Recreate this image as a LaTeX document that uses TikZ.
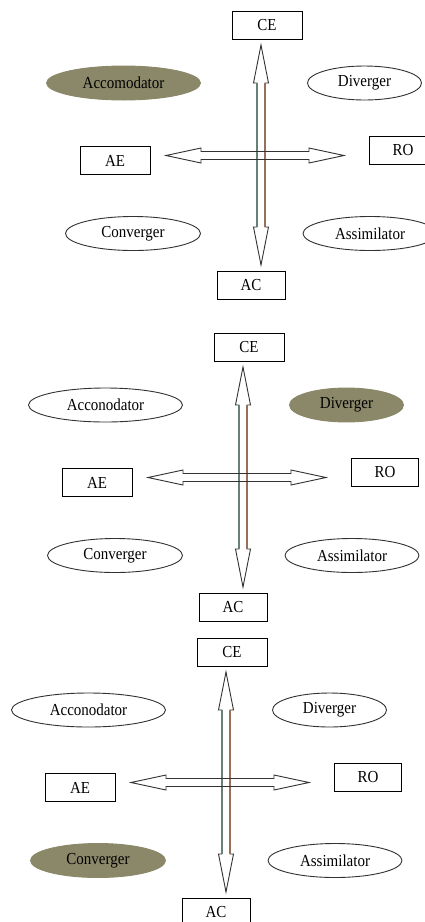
\documentclass[tikz,border=0pt]{standalone}
\usepackage{fontspec}
\usepackage{graphicx}
\setmainfont{Liberation Serif}
\usetikzlibrary{shapes.geometric}
\definecolor{olivefill}{RGB}{139,136,106}
\definecolor{shaftA}{RGB}{105,128,118}
\definecolor{shaftB}{RGB}{150,112,88}
\definecolor{edgegray}{RGB}{50,50,50}
\newcommand\tallt[1]{\scalebox{1}[1.12]{#1}}
\tikzset{
  lbl/.style={font=\fontsize{15}{18}\selectfont},
  box/.style={lbl,draw=black,line width=1pt,minimum width=70pt,minimum height=28pt,inner sep=0pt},
  oval/.style={lbl,ellipse,draw=edgegray,line width=0.9pt,inner sep=0pt},
  plain/.style={fill=white},
  hot/.style={fill=olivefill,draw=olivefill},
  blockarrow/.style={draw=edgegray,line width=0.9pt,line join=miter},
}
% #1 prefix, #2 xshift, #3 yshift, #4 acc style, #5 acc label, #6 div style, #7 conv style
\newcommand\klpanel[7]{%
\begin{scope}[shift={(#2,#3)}]
  \node[box] (#1ce) at (249,347) {\tallt{CE}};
  \node[box] (#1ae) at (97,482.5) {\tallt{AE}};
  \node[box,minimum width=67pt] (#1ro) at (385,472) {\tallt{RO}};
  \node[box,minimum width=68pt] (#1ac) at (233,607) {\tallt{AC}};
  \node[oval,minimum width=154pt,minimum height=34pt,#4] (#1acc) at (105.5,405) {\tallt{#5}};
  \node[oval,minimum width=114pt,minimum height=34pt,#6] (#1div) at (346.5,405) {\tallt{Diverger}};
  \node[oval,minimum width=135pt,minimum height=34pt,#7] (#1con) at (115,555.5) {\tallt{Converger}};
  \node[oval,minimum width=134pt,minimum height=34pt] (#1ass) at (352,555.5) {\tallt{Assimilator}};
  \coordinate (#1top) at (243,367);
  \coordinate (#1bot) at (243,587);
  \coordinate (#1lft) at (148,477.5);
  \coordinate (#1rgt) at (326,477.5);
\end{scope}
\draw[blockarrow] (#1top) -- ++(7.5,38) -- ++(-3.5,0) -- ++(0,144) -- ++(3.5,0) -- (#1bot)
   -- ++(-7.5,-38) -- ++(3.5,0) -- ++(0,-144) -- ++(-3.5,0) -- cycle;
\draw[shaftA,line width=1.2pt] (#1top) ++(-4,38) -- ++(0,144);
\draw[shaftB,line width=1.2pt] (#1top) ++(4,38) -- ++(0,144);
\draw[blockarrow] (#1lft) -- ++(35,-7.5) -- ++(0,3.5) -- ++(108,0) -- ++(0,-3.5) -- (#1rgt)
   -- ++(-35,7.5) -- ++(0,-3.5) -- ++(-108,0) -- ++(0,3.5) -- cycle;
}
\begin{document}
\begin{tikzpicture}[x=1pt,y=-1pt]
\fill[white] (0,0) rectangle (425,922);
\useasboundingbox (0,0) rectangle (425,922);
\klpanel{a}{18}{-322}{hot}{Accomodator}{plain}{plain}
\klpanel{b}{0}{0}{plain}{Acconodator}{hot}{plain}
\klpanel{c}{-17}{305}{plain}{Acconodator}{plain}{hot}
\end{tikzpicture}
\end{document}
